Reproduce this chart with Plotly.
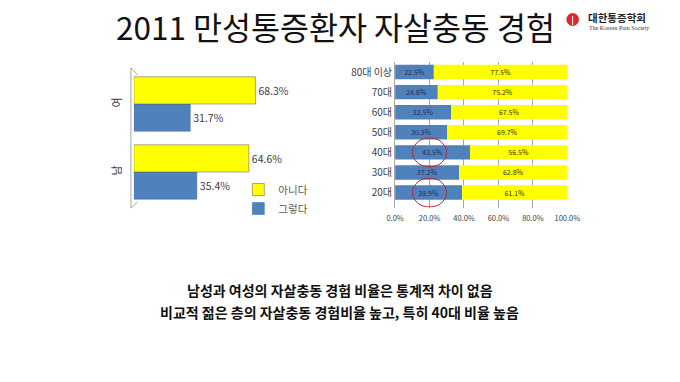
import plotly.graph_objects as go

# ---- data ----
title_text = "2011 만성통증환자 자살충동 경험"
sex_categories = ["남", "여"]
sex_yes = [35.4, 31.7]   # 그렇다
sex_no = [64.6, 68.3]    # 아니다

age_categories = ["20대", "30대", "40대", "50대", "60대", "70대", "80대 이상"]
age_yes = [38.9, 37.2, 43.5, 30.3, 32.5, 24.8, 22.5]
age_no = [61.1, 62.8, 56.5, 69.7, 67.5, 75.2, 77.5]
highlight_ages = ["20대", "40대"]

series_names = ["그렇다", "아니다"]
x_ticks = [0, 20, 40, 60, 80, 100]

notes = ["남성과 여성의 자살충동 경험 비율은 통계적 차이 없음",
         "비교적 젊은 층의 자살충동 경험비율 높고, 특히 40대 비율 높음"]

BLUE = "#4F81BD"
YELLOW = "#FFFF00"
FONT = "Noto Sans CJK KR"
W, H = 680, 382


def py(p):
    return 1 - p / H


def px(p):
    return p / W


fig = go.Figure()

# ---- left chart (sex) ----
fig.add_trace(go.Bar(
    y=sex_categories, x=sex_yes, orientation="h", name=series_names[0],
    marker=dict(color=BLUE, line=dict(color="#3A6A9E", width=0.5)),
    text=[f"{v:.1f}%" for v in sex_yes], textposition="outside",
    textfont=dict(size=10.5, color="#404040", family=FONT),
    cliponaxis=False, xaxis="x", yaxis="y", offsetgroup="s1"))
fig.add_trace(go.Bar(
    y=sex_categories, x=sex_no, orientation="h", name=series_names[1],
    marker=dict(color=YELLOW, line=dict(color="#555555", width=0.5)),
    text=[f"{v:.1f}%" for v in sex_no], textposition="outside",
    textfont=dict(size=10.5, color="#404040", family=FONT),
    cliponaxis=False, xaxis="x", yaxis="y", offsetgroup="s2"))

# ---- right chart (age), stacked: yellow starts where blue ends ----
fig.add_trace(go.Bar(
    y=age_categories, x=age_yes, orientation="h", name=series_names[0],
    marker=dict(color=BLUE, line=dict(width=0)),
    text=[f"{v:.1f}%" for v in age_yes], textposition="inside",
    insidetextanchor="middle", constraintext="none",
    textfont=dict(size=7, color="#1F2F4F", family=FONT),
    xaxis="x2", yaxis="y2", showlegend=False, offsetgroup="age", width=0.72))
fig.add_trace(go.Bar(
    y=age_categories, x=age_no, base=age_yes, orientation="h", name=series_names[1],
    marker=dict(color=YELLOW, line=dict(width=0)),
    text=[f"{v:.1f}%" for v in age_no], textposition="inside",
    insidetextanchor="middle", constraintext="none",
    textfont=dict(size=7, color="#333300", family=FONT),
    xaxis="x2", yaxis="y2", showlegend=False, offsetgroup="age", width=0.72))

shapes = []
for cat in highlight_ages:
    i = age_categories.index(cat)
    shapes.append(dict(type="circle", xref="x2", yref="y2",
                       x0=10, x1=30, y0=i - 0.72, y1=i + 0.72,
                       line=dict(color="#C0272D", width=1)))

# logo mark
shapes.append(dict(type="circle", xref="paper", yref="paper",
                   x0=px(576), x1=px(589), y0=py(26), y1=py(13),
                   fillcolor="#E0262B", line=dict(width=0)))
shapes.append(dict(type="line", xref="paper", yref="paper",
                   x0=px(582.5), x1=px(582.5), y0=py(25), y1=py(16),
                   line=dict(color="white", width=1)))
# left axis 3D-ish line
for seg in [((126, 208), (126, 68)), ((126, 68), (133, 75)), ((126, 208), (133, 202))]:
    (a, b), (c, d) = seg
    shapes.append(dict(type="line", xref="paper", yref="paper",
                       x0=px(a), x1=px(c), y0=py(b), y1=py(d),
                       line=dict(color="#A6A6A6", width=1)))

annotations = [
    dict(text=title_text, x=px(337), y=py(26), yanchor="middle",
         font=dict(size=31.5, color="#111111", family=FONT)),
    dict(text="<b>대한통증학회</b>", x=px(596), y=py(18), xanchor="left", yanchor="middle",
         font=dict(size=10.5, color="#222222", family=FONT)),
    dict(text="The Korean Pain Society", x=px(597), y=py(28), xanchor="left", yanchor="middle",
         font=dict(size=6, color="#333333", family="Liberation Serif")),
    dict(text=f"<b>{notes[0]}</b>", x=px(342), y=py(290), yanchor="middle",
         font=dict(size=14, color="#111111", family=FONT)),
    dict(text=f"<b>{notes[1]}</b>", x=px(342), y=py(312), yanchor="middle",
         font=dict(size=14, color="#111111", family=FONT)),
]
for a in annotations:
    a.update(xref="paper", yref="paper", showarrow=False)

fig.update_layout(
    width=W, height=H, margin=dict(l=0, r=0, t=0, b=0),
    paper_bgcolor="white", plot_bgcolor="rgba(0,0,0,0)",
    barmode="group", bargap=0.2, bargroupgap=0,
    font=dict(family=FONT),
    showlegend=True,
    legend=dict(x=px(237), y=py(175), xanchor="left", yanchor="top",
                traceorder="reversed", font=dict(size=10.5, color="#595959", family=FONT),
                itemwidth=30, bgcolor="rgba(0,0,0,0)"),
    xaxis=dict(domain=[px(129), px(313)], range=[0, 100], visible=False),
    yaxis=dict(domain=[py(206), py(70)], type="category",
               categoryorder="array", categoryarray=sex_categories,
               tickangle=-90, ticks="", showline=False, showgrid=False,
               tickfont=dict(size=11, color="#404040", family=FONT), ticklabelstandoff=10),
    xaxis2=dict(domain=[px(399), px(577)], range=[0, 100], anchor="y2",
                tickvals=x_ticks, ticktext=[f"{v:.1f}%" for v in x_ticks],
                showgrid=True, gridcolor="#A6A6A6", gridwidth=1, zeroline=False,
                showline=False, ticks="", ticklabelstandoff=5,
                tickfont=dict(size=7.5, color="#404040", family=FONT)),
    yaxis2=dict(domain=[py(207.5), py(62)], anchor="x2", type="category",
                categoryorder="array", categoryarray=age_categories,
                showline=True, linecolor="#A6A6A6", ticks="", showgrid=False,
                tickfont=dict(size=10, color="#404040", family=FONT)),
    shapes=shapes, annotations=annotations,
)

fig.write_html("out.html", config={"displayModeBar": False},
               post_script="document.body.style.margin='0';")
